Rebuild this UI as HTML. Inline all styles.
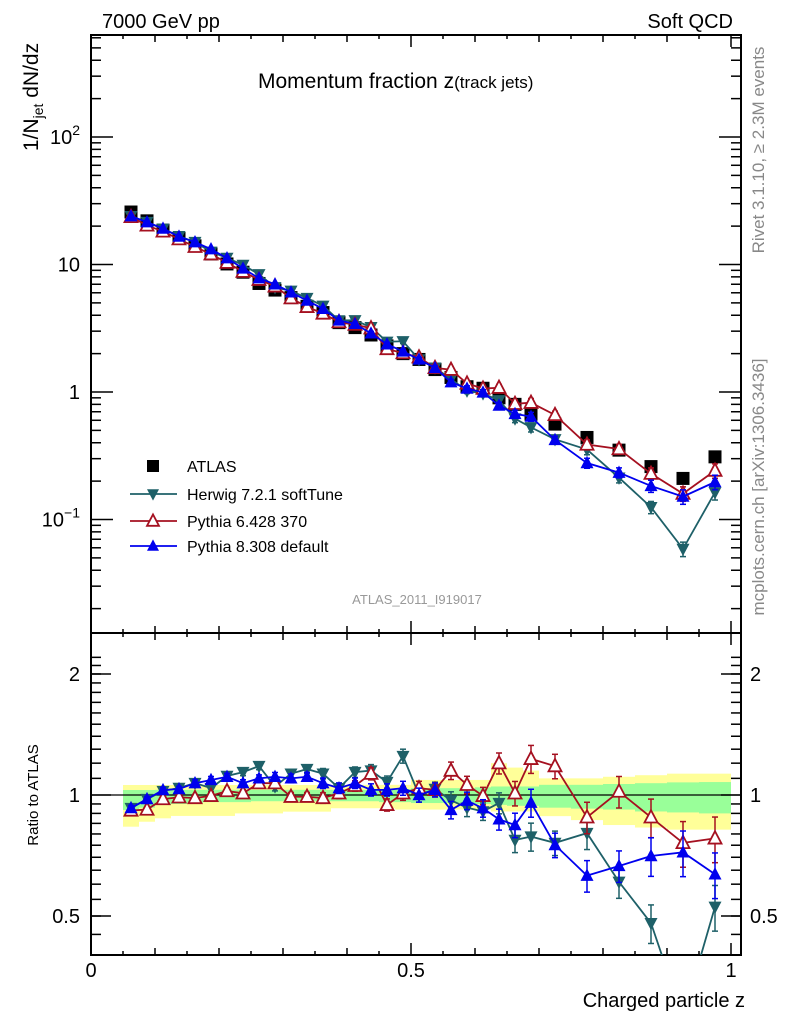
<!DOCTYPE html>
<html><head><meta charset="utf-8"><style>
body{margin:0;background:#fff;}
svg{display:block;font-family:"Liberation Sans",Arial,sans-serif;}
</style></head><body>
<svg id="c" width="786" height="1024" viewBox="0 0 786 1024" xmlns="http://www.w3.org/2000/svg">
<rect width="786" height="1024" fill="#fff"/>
<g id="bands"></g>
<g id="axes"></g>
<g id="series"></g>
<text x="102" y="28" font-size="20">7000 GeV pp</text>
<text x="733" y="28" font-size="20" text-anchor="end">Soft QCD</text>
<text x="258" y="88" font-size="21">Momentum fraction z<tspan font-size="17">(track jets)</tspan></text>
<text transform="translate(38,97) rotate(-90)" font-size="21" text-anchor="middle">1/N<tspan font-size="14" dy="5">jet</tspan><tspan dy="-5"> dN/dz</tspan></text>
<text transform="translate(38,795) rotate(-90)" font-size="15" text-anchor="middle">Ratio to ATLAS</text>
<text x="745" y="1007" font-size="20" text-anchor="end">Charged particle z</text>
<text transform="translate(764,150) rotate(-90)" font-size="17" fill="#888" text-anchor="middle">Rivet 3.1.10, ≥ 2.3M events</text>
<text transform="translate(764,487) rotate(-90)" font-size="17" fill="#888" text-anchor="middle">mcplots.cern.ch [arXiv:1306.3436]</text>
<text x="417" y="604" font-size="13" fill="#999" text-anchor="middle">ATLAS_2011_I919017</text>
<g id="legend"></g>
</svg>
<script>
const atlasVals=[25.8,22,18.6,16,14,12.1,10.1,8.7,7.1,6.3,5.5,4.7,4.2,3.5,3.2,2.8,2.3,2.0,1.8,1.5,1.3,1.1,1.07,0.9,0.8,0.67,0.56,0.44,0.35,0.26,0.21,0.31];
const herwigRatio=[0.928,0.977,1.023,1.041,1.071,1.04,1.115,1.14,1.18,1.05,1.13,1.16,1.13,1.04,1.14,1.15,1.077,1.25,1.0,1.035,0.97,0.93,0.91,0.955,0.773,0.788,0.76,0.804,0.608,0.48,0.28,0.527];
const py6Ratio=[0.915,0.92,0.977,0.987,0.983,0.995,1.023,1.01,1.07,1.07,0.99,0.99,0.983,1.01,1.054,1.13,0.945,1.01,1.04,1.03,1.15,1.06,0.995,1.2,1.01,1.23,1.18,0.88,1.02,0.88,0.76,0.78];
const py8Ratio=[0.928,0.977,1.029,1.035,1.07,1.09,1.11,1.07,1.10,1.11,1.10,1.11,1.07,1.04,1.07,1.03,1.03,1.04,1.0,1.03,0.918,0.968,0.927,0.87,0.842,0.957,0.751,0.63,0.666,0.705,0.72,0.635];
const mcRelErr=[0.015,0.015,0.015,0.015,0.02,0.02,0.02,0.02,0.02,0.025,0.025,0.025,0.03,0.03,0.03,0.035,0.035,0.04,0.04,0.04,0.05,0.05,0.05,0.06,0.07,0.08,0.07,0.09,0.09,0.11,0.13,0.13];
const yellowUp=[1.059,1.059,1.059,1.059,1.059,1.059,1.059,1.059,1.059,1.059,1.059,1.059,1.059,1.059,1.059,1.06,1.06,1.06,1.09,1.09,1.09,1.09,1.09,1.2,1.17,1.15,1.1,1.1,1.11,1.12,1.13,1.13];
const yellowDn=[0.834,0.858,0.875,0.887,0.887,0.887,0.887,0.9,0.9,0.9,0.909,0.909,0.909,0.927,0.927,0.927,0.927,0.92,0.92,0.92,0.92,0.92,0.92,0.91,0.91,0.91,0.886,0.866,0.842,0.83,0.82,0.82];
const greenUp=[1.029,1.029,1.03,1.03,1.03,1.03,1.03,1.03,1.03,1.03,1.03,1.03,1.03,1.03,1.03,1.03,1.035,1.035,1.04,1.04,1.04,1.04,1.045,1.05,1.05,1.05,1.06,1.06,1.065,1.07,1.075,1.077];
const greenDn=[0.918,0.93,0.945,0.95,0.955,0.96,0.96,0.96,0.965,0.965,0.965,0.965,0.965,0.965,0.965,0.965,0.96,0.96,0.955,0.955,0.955,0.955,0.95,0.945,0.94,0.94,0.93,0.925,0.92,0.91,0.905,0.9];
const binLo=[];const binHi=[];
for(let i=0;i<26;i++){binLo.push(0.05+0.025*i);binHi.push(0.075+0.025*i);}
for(let i=0;i<6;i++){binLo.push(0.7+0.05*i);binHi.push(0.75+0.05*i);}
const NS='http://www.w3.org/2000/svg';
const L=91,R=741,T=35,M=633,B=955;
const xS=z=>91+z*640;
const yM=v=>392-Math.log10(v)*127.5;
const yR=r=>795-Math.log10(r)*402;
function mk(tag,attrs,parent){const e=document.createElementNS(NS,tag);for(const k in attrs)e.setAttribute(k,attrs[k]);parent.appendChild(e);return e;}
const ax=document.getElementById('axes'),bd=document.getElementById('bands'),se=document.getElementById('series'),lg=document.getElementById('legend');
const defs=mk('defs',{},document.getElementById('c'));
const cm=mk('clipPath',{id:'cm'},defs);mk('rect',{x:L,y:T,width:R-L,height:M-T},cm);
const cr=mk('clipPath',{id:'cr'},defs);mk('rect',{x:L,y:M,width:R-L,height:B-M},cr);
bd.setAttribute('clip-path','url(#cr)');
for(let i=0;i<binLo.length;i++){
 const x0=xS(binLo[i]),x1=xS(binHi[i]);
 const y=mk('rect',{x:x0,y:yR(yellowUp[i]),width:x1-x0,height:yR(yellowDn[i])-yR(yellowUp[i]),fill:'#ffff99'},bd);
 
 
 const g=mk('rect',{x:x0,y:yR(greenUp[i]),width:x1-x0,height:yR(greenDn[i])-yR(greenUp[i]),fill:'#99ff99'},bd);
 
 
}
const ul=mk('line',{x1:L,x2:R,y1:yR(1),y2:yR(1),stroke:'#000','stroke-width':1.3},ax);


const f1=mk('rect',{x:L,y:T,width:R-L,height:M-T,fill:'none',stroke:'#000','stroke-width':2},ax);


const f2=mk('rect',{x:L,y:M,width:R-L,height:B-M,fill:'none',stroke:'#000','stroke-width':2},ax);


for(let k=0;k<=20;k++){const z=k*0.05,x=xS(z);
 const len=(k%10==0)?12:(k%2==0?7:4);
 [T,M].forEach(yy=>mk('line',{x1:x,x2:x,y1:yy,y2:yy+len,stroke:'#000','stroke-width':1.5},ax));
 [M,B].forEach(yy=>mk('line',{x1:x,x2:x,y1:yy,y2:yy-len,stroke:'#000','stroke-width':1.5},ax));
}
const xLabels=['0','0.5','1'];const xLabelVals=[0,0.5,1];
xLabels.forEach((t,i)=>{const e=mk('text',{x:xS(xLabelVals[i]),y:977,'font-size':20,'text-anchor':'middle'},ax);e.textContent=t;
 
 });
for(let d=-2;d<=2;d++){for(let m=1;m<=9;m++){const v=m*Math.pow(10,d);const y=yM(v);if(y<T||y>M)continue;
 const len=m==1?22:10;
 mk('line',{x1:L,x2:L+len,y1:y,y2:y,stroke:'#000','stroke-width':1.5},ax);
 mk('line',{x1:R,x2:R-len,y1:y,y2:y,stroke:'#000','stroke-width':1.5},ax);}}
const yLabels=[['10','−1',0.1],['1','',1],['10','',10],['10','2',100]];
yLabels.forEach(a=>{const e=mk('text',{x:80,y:yM(a[2])+7,'font-size':20,'text-anchor':'end'},ax);
 
 
 if(a[1]){e.textContent=a[0];const s=mk('tspan',{dy:-9,'font-size':14},e);s.textContent=a[1];}else e.textContent=a[0];});
const rTicks=[];for(let v=0.35;v<0.999;v+=0.05)rTicks.push(+v.toFixed(2));for(let v=1.1;v<2.25;v+=0.1)rTicks.push(+v.toFixed(1));
rTicks.forEach(v=>{const y=yR(v);if(y<M||y>B)return;mk('line',{x1:L,x2:L+10,y1:y,y2:y,stroke:'#000','stroke-width':1.5},ax);mk('line',{x1:R,x2:R-10,y1:y,y2:y,stroke:'#000','stroke-width':1.5},ax);});
[[2,'2'],[1,'1'],[0.5,'0.5']].forEach(a=>{const y=yR(a[0]);
 mk('line',{x1:L,x2:L+20,y1:y,y2:y,stroke:'#000','stroke-width':1.5},ax);mk('line',{x1:R,x2:R-20,y1:y,y2:y,stroke:'#000','stroke-width':1.5},ax);
 const e=mk('text',{x:80,y:y+7,'font-size':20,'text-anchor':'end'},ax);e.textContent=a[1];
 
 
 const e2=mk('text',{x:750,y:y+7,'font-size':20},ax);e2.textContent=a[1];
 
 });
function marker(type,x,y,col,parent,s){s=s||6.5;
 if(type=='sq')return mk('rect',{x:x-s,y:y-s,width:2*s,height:2*s,fill:col},parent);
 if(type=='down')return mk('polygon',{points:`${x-s},${y-s*0.8} ${x+s},${y-s*0.8} ${x},${y+s*1.1}`,fill:col},parent);
 if(type=='up')return mk('polygon',{points:`${x-s},${y+s*0.8} ${x+s},${y+s*0.8} ${x},${y-s*1.1}`,fill:col},parent);
 if(type=='upo')return mk('polygon',{points:`${x-s},${y+s*0.8} ${x+s},${y+s*0.8} ${x},${y-s*1.1}`,fill:'#fff',stroke:col,'stroke-width':1.8},parent);}
const series=[['herwig',herwigRatio,'#1e6068','down'],['pythia6',py6Ratio,'#a51020','upo'],['pythia8',py8Ratio,'#0000ee','up']];
const gm=mk('g',{'clip-path':'url(#cm)'},se);const gr=mk('g',{'clip-path':'url(#cr)'},se);
series.forEach(s=>{const [nm,rat,col,mt]=s;
 const cx=binLo.map((l,i)=>xS((l+binHi[i])/2));
 const mainY=rat.map((r,i)=>yM(r*atlasVals[i]));const ratY=rat.map(r=>yR(r));
 [[gm,mainY,v=>yM(v),true],[gr,ratY,v=>yR(v),false]].forEach(p=>{const [g,ys,fy,isMain]=p;
  const grp=mk('g',{},g);
  
  
  mk('polyline',{points:cx.map((x,i)=>x+','+ys[i]).join(' '),fill:'none',stroke:col,'stroke-width':1.8},grp);
  rat.forEach((r,i)=>{const val=isMain?r*atlasVals[i]:r;const e=mcRelErr[i];
   const y1=fy(val*(1+e)),y2=fy(val*(1-e));
   mk('line',{x1:cx[i],x2:cx[i],y1:y1,y2:y2,stroke:col,'stroke-width':1.5},grp);
   mk('line',{x1:cx[i]-3,x2:cx[i]+3,y1:y1,y2:y1,stroke:col,'stroke-width':1.5},grp);
   mk('line',{x1:cx[i]-3,x2:cx[i]+3,y1:y2,y2:y2,stroke:col,'stroke-width':1.5},grp);
   const m=marker(mt,cx[i],ys[i],col,grp);
   
   });});
});
const ga=document.createElementNS(NS,'g');gm.insertBefore(ga,gm.firstChild);


atlasVals.forEach((v,i)=>{const x=xS((binLo[i]+binHi[i])/2);const m=marker('sq',x,yM(v),'#000',ga,6.5);
 
 });
const legItems=[['ATLAS','#000','sq',false],['Herwig 7.2.1 softTune','#1e6068','down',true],['Pythia 6.428 370','#a51020','upo',true],['Pythia 8.308 default','#0000ee','up',true]];
const legY=[466,494,521,546];
legItems.forEach((it,i)=>{const g=mk('g',{},lg);
 
 
 if(it[3])mk('line',{x1:130,x2:177,y1:legY[i],y2:legY[i],stroke:it[1],'stroke-width':1.8},g);
 marker(it[2],153,legY[i],it[1],g,6);
 const t=mk('text',{x:187,y:legY[i]+6,'font-size':16},g);t.textContent=it[0];});
</script>
</body></html>
